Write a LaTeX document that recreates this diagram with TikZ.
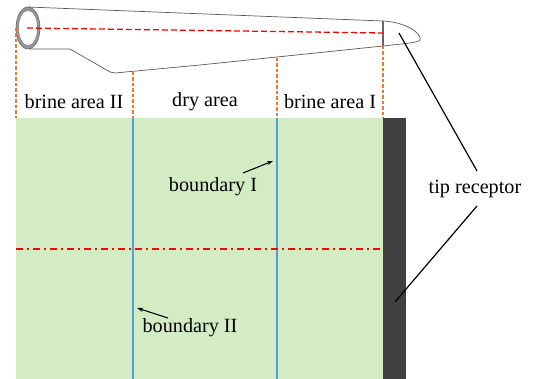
\documentclass[tikz,border=0pt]{standalone}
\usepackage{fontspec}
\setmainfont{Liberation Serif}
\usetikzlibrary{arrows.meta}
\definecolor{zonegreen}{RGB}{211,236,195}
\definecolor{bndblue}{RGB}{91,155,213}
\definecolor{guideorange}{RGB}{240,120,40}
\definecolor{receptorgray}{RGB}{64,64,64}
\definecolor{ringgray}{RGB}{150,150,150}
\tikzset{
  guide/.style={guideorange, line width=1.2pt, dash pattern=on 3.5pt off 2pt},
  bnd/.style={bndblue, line width=1.1pt},
  lbl/.style={font=\fontsize{20.2}{23}\selectfont, inner sep=0pt},
  pointer/.style={black, line width=1.1pt, -{Stealth[length=6pt,width=4pt]}},
  leader/.style={black, line width=1.2pt},
  bladeline/.style={black!65, line width=0.7pt}
}
\begin{document}
\begin{tikzpicture}[x=1pt,y=-1pt]
\useasboundingbox (0,0) rectangle (533,379);

% study region and tip receptor
\fill[zonegreen] (16,118) rectangle (383,379);
\fill[receptorgray] (383,118) rectangle (406,379);
\draw[bnd] (133,118) -- (133,379);
\draw[bnd] (277,118) -- (277,379);
\draw[red, line width=1.6pt, dash pattern=on 7pt off 4pt on 2pt off 4pt] (16,249) -- (383,249);

% blade outline
\draw[bladeline, fill=white]
  (28,7) -- (383,21) .. controls (405,22) and (422,33) .. (420,40)
  .. controls (418,43) and (400,44) .. (383,46)
  -- (277,57) -- (200,65) -- (115,73) -- (110,72) -- (70,49) -- (30,49) -- cycle;
\draw[black!60, line width=1.4pt] (383,21) -- (383,46);
\fill[ringgray] (28,28) ellipse [x radius=12, y radius=21];
\draw[black!65, line width=0.5pt] (28,28) ellipse [x radius=12, y radius=21];
\fill[white] (28,28) ellipse [x radius=9.5, y radius=17.5];
\draw[black!55, line width=0.4pt] (28,28) ellipse [x radius=9.5, y radius=17.5];
\draw[red, line width=1.3pt, dash pattern=on 6pt off 3pt] (27,28) -- (383,33);

% projection guides
\draw[guide] (16,28) -- (16,118);
\draw[guide] (133,72) -- (133,118);
\draw[guide] (277,58) -- (277,118);
\draw[guide] (383,46) -- (383,118);

% area labels
\node[lbl] (b2) at (74,102) {brine area II};
\node[lbl] (dry) at (205,102) {dry area};
\node[lbl] (b1) at (330,102) {brine area I};

% boundary labels
\node[lbl] (bI) at (213,187) {boundary I};
\coordinate (bItail) at (243,173);
\coordinate (bIhead) at (273,161);
\draw[pointer] (bItail) -- (bIhead);

\node[lbl] (bII) at (190,328) {boundary II};
\coordinate (bIItail) at (168,318);
\coordinate (bIIhead) at (137,308);
\draw[pointer] (bIItail) -- (bIIhead);

% tip receptor callout
\node[lbl] (tip) at (475,189) {tip receptor};
\coordinate (tipup) at (399,33);
\coordinate (tipdown) at (395,302);
\draw[leader] (477,171) -- (tipup);
\draw[leader] (477,206) -- (tipdown);
\end{tikzpicture}
\end{document}
